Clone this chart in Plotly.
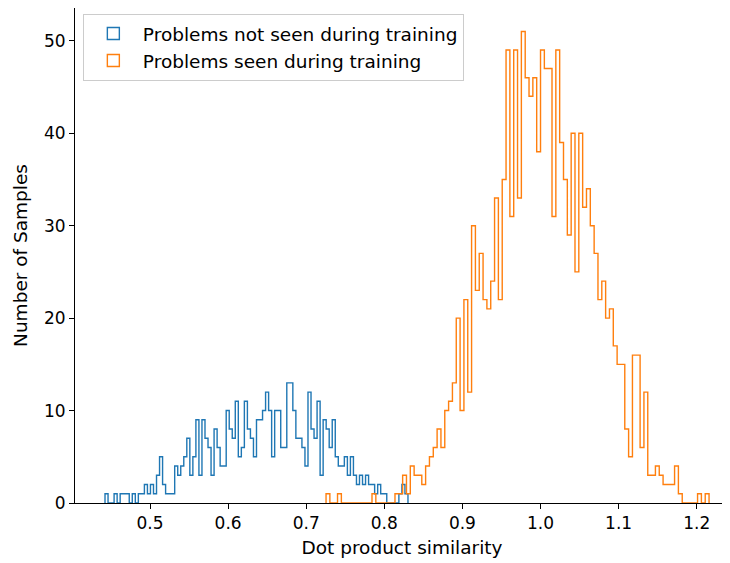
import numpy as np
import plotly.graph_objects as go

# ---- data ----
blue_name = "Problems not seen during training"
orange_name = "Problems seen during training"

blue_min, blue_max = 0.4424, 0.8303
blue_counts = [1, 0, 0, 1, 0, 1, 1, 1, 0, 1, 0, 1, 1,
               2, 1, 2, 1, 3, 5, 2, 1, 1, 1, 4, 3, 4, 5, 7, 3, 5,
               9, 3, 9, 7, 6, 3, 8, 6, 4, 4, 10, 8, 7, 11, 5, 6, 11, 8, 7, 5, 9, 9, 10, 12, 10, 5, 10,
               10, 6, 6, 13, 13, 10, 7, 7, 6, 4, 12, 8, 7, 11, 3, 9, 8, 6, 9, 5, 4, 4, 5, 3, 5, 3, 2,
               3, 2, 3, 2, 2, 1, 2, 1, 1, 0, 0, 0, 0, 1, 2, 1]

orange_min, orange_max = 0.7254, 1.2158
orange_counts = [1, 0, 0, 1, 0, 0, 0, 0, 0, 0, 0, 0, 1, 0, 0, 0, 0, 0,
                 1, 1, 3, 1, 4, 3, 3, 2, 4, 5, 6, 8, 6, 10, 11, 13, 20, 10, 22, 12,
                 30, 23, 27, 22, 21, 24, 33, 22, 35, 49, 31, 49, 33, 51, 46, 44, 46, 38, 49, 47, 47, 31,
                 49, 39, 35, 29, 40, 25, 40, 32, 34, 30, 27, 22, 24, 20, 21, 17, 15, 15, 8, 5, 16, 16, 6, 12,
                 3, 3, 4, 3, 2, 2, 2, 4, 1, 0, 0, 0, 0, 1, 0, 1]

x_ticks = [0.5, 0.6, 0.7, 0.8, 0.9, 1.0, 1.1, 1.2]
y_ticks = [0, 10, 20, 30, 40, 50]

BLUE = "#1f77b4"
ORANGE = "#ff7f0e"
FONT = "DejaVu Sans"


def step_path(lo, hi, counts):
    edges = np.linspace(lo, hi, len(counts) + 1)
    xs = [edges[0]] + list(edges[:-1]) + [edges[-1]]
    ys = [0] + list(counts) + [0]
    return xs, ys


fig = go.Figure()
for name, lo, hi, counts, col, grp in [
    (blue_name, blue_min, blue_max, blue_counts, BLUE, "a"),
    (orange_name, orange_min, orange_max, orange_counts, ORANGE, "b"),
]:
    xs, ys = step_path(lo, hi, counts)
    fig.add_trace(go.Scatter(x=xs, y=ys, mode="lines", line=dict(color=col, width=1.4, shape="hv"),
                             showlegend=False, hoverinfo="skip", legendgroup=grp))
    fig.add_trace(go.Bar(x=[None], y=[None], name=name, legendgroup=grp,
                         marker=dict(color="rgba(0,0,0,0)", line=dict(color=col, width=1.4))))

# the page adds an 8px body margin, so the figure is drawn 8px smaller and shifted
fig.update_layout(
    width=722, height=555,
    margin=dict(l=67, r=1, t=0, b=60),
    paper_bgcolor="white", plot_bgcolor="white",
    font=dict(family=FONT, size=17, color="black"),
    showlegend=True,
    legend=dict(x=0.012, y=0.988, xanchor="left", yanchor="top",
                bgcolor="rgba(255,255,255,0.8)", bordercolor="#cccccc", borderwidth=1,
                font=dict(family=FONT, size=18.5), traceorder="grouped", tracegroupgap=0,
                itemwidth=49),
)
fig.update_xaxes(range=[0.40397, 1.24135], tickvals=x_ticks, ticktext=[f"{v:.1f}" for v in x_ticks],
                 showline=True, linecolor="black", linewidth=1, mirror=True, automargin=False,
                 ticks="outside", ticklen=5, tickcolor="black", showgrid=False, zeroline=False,
                 tickfont=dict(family=FONT, size=17),
                 title=dict(text="Dot product similarity", font=dict(family=FONT, size=18.5), standoff=8))
fig.update_yaxes(range=[0, 53.55], tickvals=y_ticks,
                 showline=True, linecolor="black", linewidth=1, mirror=True, automargin=False,
                 ticks="outside", ticklen=5, tickcolor="black", showgrid=False, zeroline=False,
                 tickfont=dict(family=FONT, size=17),
                 title=dict(text="Number of Samples", font=dict(family=FONT, size=18.5), standoff=11))

fig.write_html("out.html")
